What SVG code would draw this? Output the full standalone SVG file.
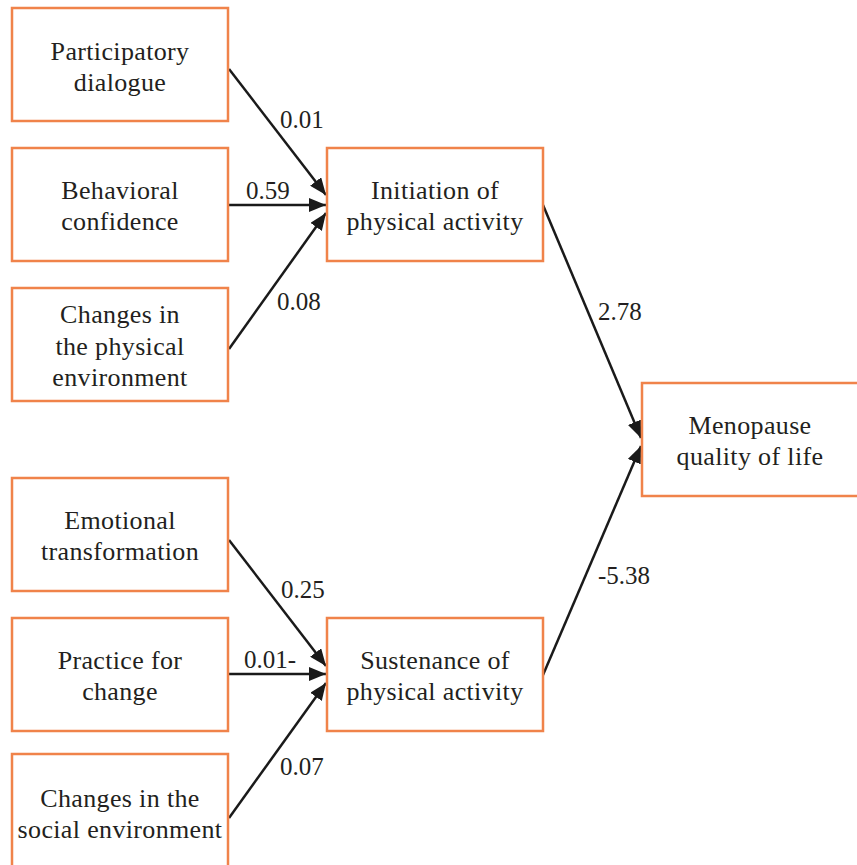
<svg xmlns="http://www.w3.org/2000/svg" width="857" height="865" viewBox="0 0 857 865">
<defs>
<style>
.box{fill:#fff;stroke:#F0834A;stroke-width:2.5}
.t{font-family:'Liberation Serif','Times New Roman',serif;font-size:26px;letter-spacing:0.35px;fill:#231F20;text-anchor:middle}
.l{font-family:'Liberation Serif','Times New Roman',serif;font-size:25px;fill:#231F20}
.c{stroke:#1a1a1a;stroke-width:2.5;fill:none;marker-end:url(#ah)}
</style>
<marker id="ah" markerUnits="userSpaceOnUse" markerWidth="18" markerHeight="14" refX="17" refY="7" orient="auto">
<path d="M0,0 L17,7 L0,14 Z" fill="#1a1a1a"/>
</marker>
</defs>
<rect width="857" height="865" fill="#fff"/>
<g id="connectors">
<line class="c" x1="229" y1="69" x2="326" y2="195"/>
<line class="c" x1="229" y1="205" x2="326" y2="205"/>
<line class="c" x1="229" y1="349" x2="326" y2="213"/>
<line class="c" x1="543" y1="205" x2="641" y2="438"/>
<line class="c" x1="543" y1="675" x2="641" y2="446"/>
<line class="c" x1="229" y1="540" x2="326" y2="666"/>
<line class="c" x1="229" y1="674" x2="326" y2="674"/>
<line class="c" x1="229" y1="818" x2="326" y2="683"/>
<text class="l" x="280" y="128">0.01</text>
<text class="l" x="246" y="199">0.59</text>
<text class="l" x="277" y="310">0.08</text>
<text class="l" x="598" y="320">2.78</text>
<text class="l" x="281" y="598">0.25</text>
<text class="l" x="244" y="668">0.01-</text>
<text class="l" x="280" y="775">0.07</text>
<text class="l" x="598" y="584">-5.38</text>
</g>
<g id="n1"><rect class="box" x="12" y="8" width="216" height="113"/><text class="t" x="120" y="60">Participatory</text><text class="t" x="120" y="91">dialogue</text></g>
<g id="n2"><rect class="box" x="12" y="148" width="216" height="113"/><text class="t" x="120" y="199">Behavioral</text><text class="t" x="120" y="230">confidence</text></g>
<g id="n3"><rect class="box" x="12" y="288" width="216" height="113"/><text class="t" x="120" y="323">Changes in</text><text class="t" x="120" y="355">the physical</text><text class="t" x="120" y="386">environment</text></g>
<g id="n4"><rect class="box" x="12" y="478" width="216" height="113"/><text class="t" x="120" y="529">Emotional</text><text class="t" x="120" y="560">transformation</text></g>
<g id="n5"><rect class="box" x="12" y="618" width="216" height="113"/><text class="t" x="120" y="669">Practice for</text><text class="t" x="120" y="700">change</text></g>
<g id="n6"><rect class="box" x="12" y="754" width="216" height="120"/><text class="t" x="120" y="807">Changes in the</text><text class="t" x="120" y="838">social environment</text></g>
<g id="n7"><rect class="box" x="327" y="148" width="216" height="113"/><text class="t" x="435" y="199">Initiation of</text><text class="t" x="435" y="230">physical activity</text></g>
<g id="n8"><rect class="box" x="327" y="618" width="216" height="113"/><text class="t" x="435" y="669">Sustenance of</text><text class="t" x="435" y="700">physical activity</text></g>
<g id="n9"><rect class="box" x="642" y="383" width="220" height="113"/><text class="t" x="750" y="434">Menopause</text><text class="t" x="750" y="465">quality of life</text></g>
</svg>
